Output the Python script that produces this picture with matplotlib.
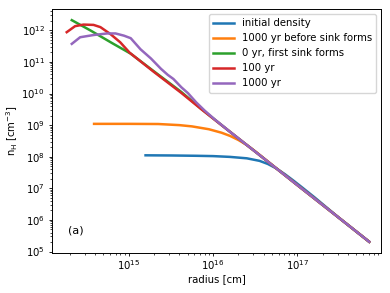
import numpy as np
import matplotlib
matplotlib.use('Agg')
import matplotlib.pyplot as plt

# log10 radius [cm] / log10 density [cm^-3]
init_logr = [15.20, 15.50, 15.80, 16.00, 16.20, 16.40, 16.55, 16.65, 16.75,
             16.85, 16.95, 17.05, 17.20, 17.50, 17.85]
init_logn = [8.045, 8.04, 8.03, 8.02, 7.995, 7.95, 7.87, 7.77, 7.63,
             7.45, 7.25, 7.04, 6.72, 6.05, 5.31]

pre_logr = [14.59, 15.00, 15.35, 15.60, 15.75, 15.95, 16.10, 16.20, 16.30,
            16.40, 16.50, 16.70, 17.00, 17.50, 17.85]
pre_logn = [9.04, 9.04, 9.035, 9.00, 8.96, 8.87, 8.76, 8.66, 8.53,
            8.37, 8.17, 7.74, 7.10, 6.05, 5.31]

t0_logr = [14.326, 14.55, 14.80, 15.024, 15.30, 15.623, 15.862, 16.20, 16.50,
           17.00, 17.50, 17.85]
t0_logn = [12.32, 11.99, 11.60, 11.26, 10.70, 10.05, 9.51, 8.79, 8.16,
           7.10, 6.05, 5.31]

t100_logr = [14.266, 14.365, 14.465, 14.584, 14.665, 14.784, 14.90, 15.012,
             15.30, 15.623, 15.862, 16.20, 16.50, 17.00, 17.50, 17.85]
t100_logn = [11.94, 12.13, 12.18, 12.17, 12.10, 11.88, 11.62, 11.29,
             10.68, 10.02, 9.50, 8.79, 8.16, 7.10, 6.05, 5.31]

t1000_logr = [14.326, 14.425, 14.584, 14.745, 14.844, 14.944, 15.024, 15.14,
              15.263, 15.383, 15.463, 15.53, 15.623, 15.703, 15.80, 15.90,
              16.02, 16.20, 16.50, 17.00, 17.50, 17.85]
t1000_logn = [11.57, 11.78, 11.85, 11.90, 11.90, 11.83, 11.75, 11.40,
              11.11, 10.78, 10.59, 10.46, 10.20, 10.01, 9.72, 9.46,
              9.18, 8.79, 8.16, 7.10, 6.05, 5.31]

curves = [
    (init_logr, init_logn, 'initial density'),
    (pre_logr, pre_logn, '1000 yr before sink forms'),
    (t0_logr, t0_logn, '0 yr, first sink forms'),
    (t100_logr, t100_logn, '100 yr'),
    (t1000_logr, t1000_logn, '1000 yr'),
]

# original looks like a 6.4x4.8 figure shrunk to ~61 %
plt.rcParams.update({
    'font.size': 7.3,
    'axes.linewidth': 0.7,
    'xtick.major.size': 2.5, 'ytick.major.size': 2.5,
    'xtick.minor.size': 1.5, 'ytick.minor.size': 1.5,
    'xtick.major.pad': 1.5, 'ytick.major.pad': 2.5,
    'xtick.major.width': 0.6, 'ytick.major.width': 0.6,
    'xtick.minor.width': 0.5, 'ytick.minor.width': 0.5,
})

fig, ax = plt.subplots(figsize=(3.9, 2.93), dpi=100)
for logr, logn, label in curves:
    ax.plot(10 ** np.array(logr), 10 ** np.array(logn), lw=1.8, label=label)

ax.set_xscale('log')
ax.set_yscale('log')
ax.set_xlim(10 ** 14.09, 10 ** 17.99)
ax.set_xlabel('radius [cm]', labelpad=1)
ax.set_ylabel(r'n$_\mathrm{H}$ [cm$^{-3}$]', labelpad=1)
ax.text(0.05, 0.08, '(a)', transform=ax.transAxes, fontsize=8)
ax.legend(loc='upper right')

fig.subplots_adjust(left=0.133, right=0.977, top=0.969, bottom=0.137)
fig.savefig('out.png')
